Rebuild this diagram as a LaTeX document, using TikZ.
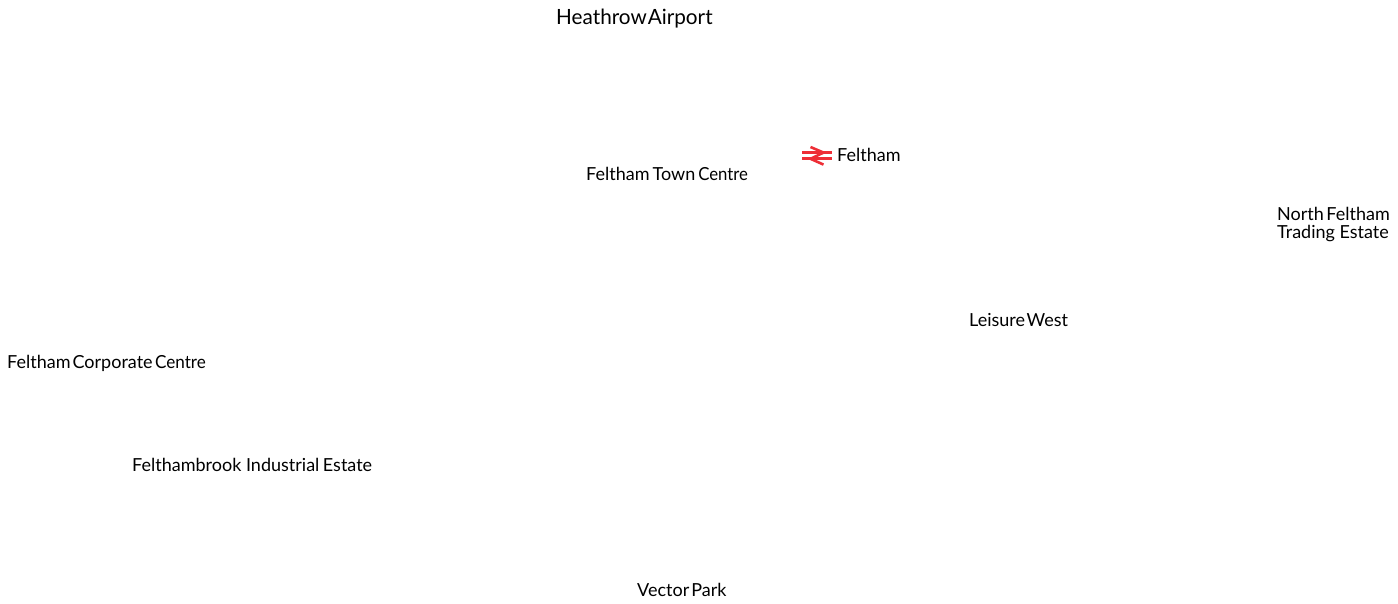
\documentclass[tikz,border=0pt]{standalone}
\usepackage{fontspec}
\usepackage{graphicx}
\setmainfont{Lato}
\newcommand\nsp[1]{\hspace{#1pt}}
\newcommand\cw[2]{\scalebox{#1}[1]{#2}}
\begin{document}
\begin{tikzpicture}[x=1pt,y=-1pt,
  lbl/.style={anchor=base west,inner sep=0pt,font=\fontsize{18}{18}\selectfont,text=black},
  big/.style={anchor=base west,inner sep=0pt,font=\fontsize{21}{21}\selectfont,text=black},
  brbar/.style={draw=brred,line width=2.6pt},
  brzig/.style={draw=brred,line width=2.6pt,line join=miter}]
\definecolor{brred}{HTML}{EE2E36}
\useasboundingbox (0,0) rectangle (1398,604);
\fill[white] (0,0) rectangle (1398,604);
\node[big] (heathrow) at (556,25) {\cw{0.987}{Heathrow\nsp{1}Airport}};
\node[lbl] (feltham) at (837,162) {Feltham};
\node[lbl] (town) at (586,181) {Feltham\nsp{3}Town\nsp{3}\cw{0.93}{Centre}};
\node[lbl] (north1) at (1277,221) {North\nsp{2.5}Feltham};
\node[lbl] (north2) at (1277,239) {Trading Estate};
\node[lbl] (leisure) at (969,326) {Leisure\nsp{1.5}West};
\node[lbl] (corp) at (7,368) {Feltham\nsp{2}Corporate\nsp{2.5}\cw{0.95}{Centre}};
\node[lbl] (brook) at (132,471) {Felthambrook Industrial\nsp{3.5}Estate};
\node[lbl] (vector) at (637,596) {Vector\nsp{2}Park};
% double arrow symbol
\draw[brbar] (802,152.6) -- (832,152.6);
\draw[brbar] (802,158.8) -- (832,158.8);
\draw[brzig] (810.5,147) -- (823.5,152.6) -- (810.5,158.8) -- (823.5,164.6);
\end{tikzpicture}
\end{document}
